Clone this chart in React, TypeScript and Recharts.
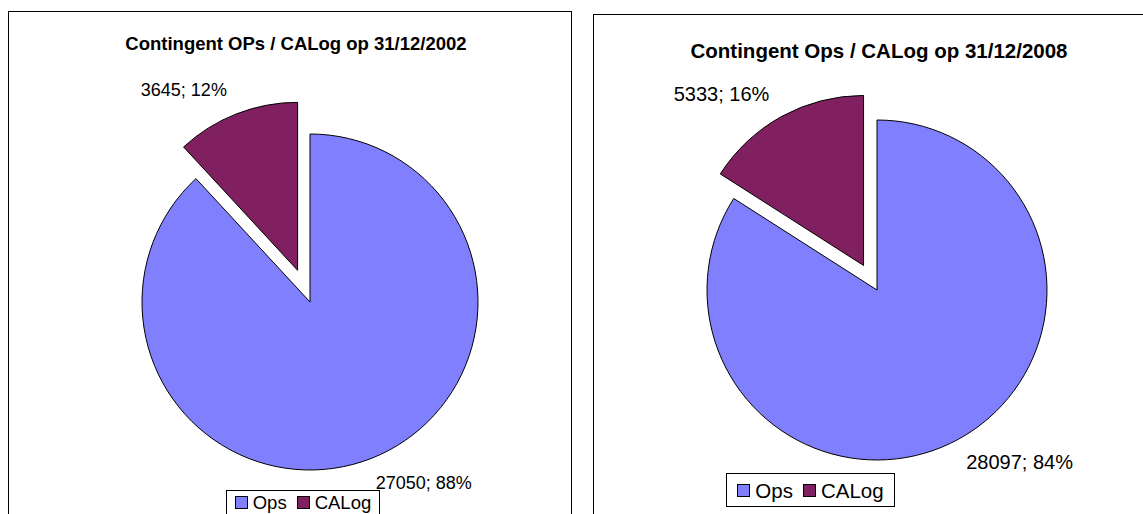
import { Cell, Legend, Pie, PieChart } from "recharts";

const categories = ["Ops", "CALog"];
const colors = ["#8080FF", "#802060"];
const values2002 = [27050, 3645];
const values2008 = [28097, 5333];
const titles = [
  "Contingent OPs / CALog op 31/12/2002",
  "Contingent Ops / CALog op 31/12/2008",
];

const FONT = "'Liberation Sans', Arial, sans-serif";
const RAD = Math.PI / 180;

type PanelProps = {
  title: string;
  values: number[];
  left: number;
  top: number;
  width: number;
  height: number;
  cx: number;
  cy: number;
  radius: number;
  explode: number;
  titleX: number;
  titleY: number;
  fontSize: number;
  legend: { x: number; y: number; w: number; h: number; padTop?: number };
};

function LegendBox({ w, h, padTop, fontSize }: { w: number; h: number; padTop?: number; fontSize: number }) {
  return (
    <div
      style={{
        width: w,
        height: h,
        boxSizing: "border-box",
        border: "1px solid #000",
        background: "#fff",
        display: "flex",
        alignItems: padTop === undefined ? "center" : "flex-start",
        paddingTop: padTop ?? 0,
        justifyContent: "center",
        gap: 10,
        fontFamily: FONT,
        fontSize,
        lineHeight: "21px",
        color: "#000",
      }}
    >
      {categories.map((c, i) => (
        <span key={c} style={{ display: "flex", alignItems: "center", gap: 5 }}>
          <span
            style={{
              width: 11,
              height: 11,
              background: colors[i],
              border: "1px solid #000",
              display: "inline-block",
            }}
          />
          {c}
        </span>
      ))}
    </div>
  );
}

function Panel(p: PanelProps) {
  const data = categories.map((name, i) => ({ name, value: p.values[i] }));
  const total = p.values.reduce((a, b) => a + b, 0);
  // middle of the CALog slice (recharts degrees: 90 = top, going clockwise)
  const mid = 90 - (360 * p.values[0]) / total - (180 * p.values[1]) / total;
  const ex = p.cx + p.explode * Math.cos(mid * RAD);
  const ey = p.cy - p.explode * Math.sin(mid * RAD);

  const makeLabel = (show: number) => (props: any) => {
    if (props.index !== show) return null;
    const { cx, cy, midAngle, outerRadius, value, percent } = props;
    const r = outerRadius + 26;
    const x = cx + r * Math.cos(-midAngle * RAD);
    const y = cy + r * Math.sin(-midAngle * RAD);
    return (
      <text
        x={x > cx ? x - 5 : x}
        y={y}
        textAnchor={x > cx ? "start" : "end"}
        dominantBaseline="central"
        fontFamily={FONT}
        fontSize={p.fontSize}
        fill="#000"
      >
        {`${value}; ${Math.round(percent * 100)}%`}
      </text>
    );
  };

  return (
    <div
      style={{
        position: "absolute",
        left: p.left,
        top: p.top,
        width: p.width,
        height: p.height,
        boxSizing: "border-box",
        border: "1px solid #000",
        background: "#fff",
      }}
    >
      <div
        style={{
          position: "absolute",
          left: p.titleX - 250,
          width: 500,
          top: p.titleY - 12,
          height: 24,
          lineHeight: "24px",
          textAlign: "center",
          fontFamily: FONT,
          fontWeight: "bold",
          fontSize: p.fontSize + 0.5,
          color: "#000",
        }}
      >
        {p.title}
      </div>
      <PieChart width={p.width - 2} height={p.height - 2} style={{ position: "absolute", left: 0, top: 0 }}>
        <Pie
          data={data}
          dataKey="value"
          nameKey="name"
          cx={p.cx}
          cy={p.cy}
          outerRadius={p.radius}
          startAngle={90}
          endAngle={-270}
          stroke="#000"
          strokeWidth={1}
          labelLine={false}
          label={makeLabel(0)}
          isAnimationActive={false}
        >
          <Cell fill={colors[0]} />
          <Cell fill="none" stroke="none" />
        </Pie>
        <Pie
          data={data}
          dataKey="value"
          nameKey="name"
          cx={ex}
          cy={ey}
          outerRadius={p.radius}
          startAngle={90}
          endAngle={-270}
          stroke="#000"
          strokeWidth={1}
          labelLine={false}
          label={makeLabel(1)}
          isAnimationActive={false}
        >
          <Cell fill="none" stroke="none" />
          <Cell fill={colors[1]} />
        </Pie>
        <Legend
          content={() => (
            <LegendBox w={p.legend.w} h={p.legend.h} padTop={p.legend.padTop} fontSize={p.fontSize + 0.5} />
          )}
          wrapperStyle={{ position: "absolute", left: p.legend.x, top: p.legend.y, width: p.legend.w, bottom: "auto" }}
        />
      </PieChart>
    </div>
  );
}

export default function App() {
  return (
    <div
      style={{
        position: "fixed",
        left: 0,
        top: 0,
        width: 1143,
        height: 514,
        overflow: "hidden",
        background: "#fff",
      }}
    >
      <Panel
        title={titles[0]}
        values={values2002}
        left={8}
        top={11}
        width={564}
        height={530}
        cx={296}
        cy={285}
        radius={168}
        explode={34}
        titleX={287}
        titleY={32}
        fontSize={18}
        legend={{ x: 217, y: 478, w: 154, h: 34, padTop: 1 }}
      />
      <Panel
        title={titles[1]}
        values={values2008}
        left={593}
        top={14}
        width={580}
        height={530}
        cx={278}
        cy={270}
        radius={170}
        explode={28}
        titleX={285}
        titleY={36}
        fontSize={20}
        legend={{ x: 132, y: 458, w: 169, h: 34 }}
      />
    </div>
  );
}
